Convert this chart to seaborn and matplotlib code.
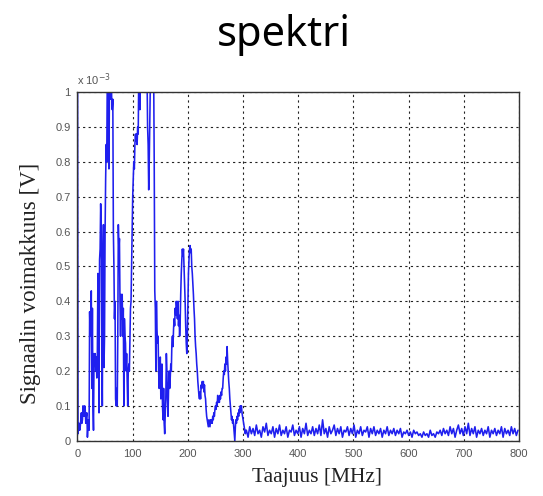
import numpy as np
import pandas as pd
import matplotlib
matplotlib.use("Agg")
import matplotlib.pyplot as plt
import seaborn as sns

# ---- data (signal level in units of 1e-3 V) ----
# 0..305 MHz sampled every 1 MHz
low_start_mhz = 0
low_step_mhz = 1
low_levels = [
    1.2, 0.02, 0.04, 0.05, 0.03, 0.04, 0.06, 0.08, 0.05, 0.06,
    0.1, 0.08, 0.07, 0.1, 0.09, 0.05, 0.07, 0.08, 0.01, 0.04,
    0.06, 0.03, 0.37, 0.3, 0.3, 0.43, 0.15, 0.38, 0.1, 0.03,
    0.25, 0.22, 0.25, 0.2, 0.24, 0.18, 0.25, 0.48, 0.3, 0.08,
    0.52, 0.55, 0.68, 0.6, 0.3, 0.1, 0.5, 0.62, 0.21, 0.3,
    0.6, 0.75, 0.85, 0.8, 1.05, 1.1, 0.82, 0.78, 1.05, 1.1,
    0.98, 1.05, 0.98, 0.95, 0.98, 0.6, 0.5, 0.35, 0.4, 0.12,
    0.1, 0.15, 0.1, 0.3, 0.62, 0.55, 0.58, 0.4, 0.3, 0.42,
    0.35, 0.42, 0.3, 0.38, 0.1, 0.35, 0.3, 0.28, 0.2, 0.25,
    0.18, 0.1, 0.2, 0.22, 0.2, 0.3, 0.38, 0.4, 0.5, 0.6,
    0.7, 0.75, 0.8, 0.78, 0.85, 0.88, 0.86, 0.88, 0.85, 0.9,
    0.88, 1.05, 1.1, 0.95, 1.1, 1.1, 1.05, 1.1, 1.2, 1.15,
    1.3, 1.2, 1.25, 1.15, 1.1, 1.08, 1.05, 0.9, 0.85, 0.72,
    0.8, 0.92, 1.05, 1.15, 1.2, 1.1, 1.15, 1.1, 1.05, 0.8,
    0.43, 0.38, 0.2, 0.4, 0.32, 0.28, 0.3, 0.2, 0.15, 0.18,
    0.24, 0.12, 0.2, 0.22, 0.1, 0.06, 0.15, 0.05, 0.02, 0.08,
    0.12, 0.25, 0.2, 0.12, 0.07, 0.15, 0.2, 0.15, 0.18, 0.22,
    0.2, 0.28, 0.3, 0.27, 0.32, 0.35, 0.33, 0.38, 0.36, 0.4,
    0.38, 0.35, 0.4, 0.33, 0.36, 0.3, 0.34, 0.42, 0.48, 0.52,
    0.55, 0.53, 0.55, 0.5, 0.45, 0.4, 0.33, 0.28, 0.25, 0.3,
    0.4, 0.48, 0.52, 0.55, 0.56, 0.54, 0.55, 0.5, 0.48, 0.45,
    0.42, 0.38, 0.35, 0.3, 0.27, 0.25, 0.22, 0.2, 0.17, 0.15,
    0.13, 0.12, 0.14, 0.12, 0.16, 0.15, 0.17, 0.16, 0.17, 0.14,
    0.16, 0.13, 0.12, 0.09, 0.07, 0.06, 0.05, 0.04, 0.06, 0.05,
    0.04, 0.06, 0.05, 0.06, 0.05, 0.07, 0.06, 0.08, 0.07, 0.09,
    0.1, 0.09, 0.11, 0.1, 0.13, 0.11, 0.12, 0.11, 0.13, 0.12,
    0.14, 0.13, 0.15, 0.15, 0.18, 0.2, 0.19, 0.22, 0.2, 0.24,
    0.22, 0.27, 0.23, 0.2, 0.17, 0.15, 0.12, 0.1, 0.08, 0.06,
    0.07, 0.05, 0.06, 0.04, 0.02, 0.0, 0.04, 0.06, 0.05, 0.07,
    0.06, 0.08, 0.07, 0.09, 0.08, 0.1, 0.09, 0.1, 0.08, 0.07,
    0.06, 0.05, 0.04, 0.03, 0.02, 0.03,
]
# 306..798 MHz sampled every 3 MHz (noise floor)
high_start_mhz = 306
high_step_mhz = 3
high_levels = [
    0.03, 0.01, 0.04, 0.02, 0.035, 0.015, 0.045, 0.02, 0.03, 0.01, 0.04, 0.025, 0.05, 0.015, 0.03,
    0.02, 0.04, 0.01, 0.035, 0.02, 0.045, 0.015, 0.03, 0.02, 0.04, 0.01, 0.03, 0.025, 0.045, 0.015,
    0.03, 0.02, 0.04, 0.01, 0.035, 0.02, 0.05, 0.015, 0.03, 0.02, 0.04, 0.015, 0.035, 0.02, 0.045,
    0.015, 0.06, 0.02, 0.035, 0.01, 0.04, 0.02, 0.03, 0.045, 0.015, 0.035, 0.02, 0.04, 0.01, 0.03,
    0.025, 0.04, 0.015, 0.035, 0.02, 0.045, 0.01, 0.03, 0.02, 0.04, 0.015, 0.03, 0.025, 0.04, 0.01,
    0.035, 0.02, 0.04, 0.015, 0.03, 0.02, 0.035, 0.01, 0.03, 0.02, 0.04, 0.015, 0.03, 0.02, 0.035,
    0.015, 0.03, 0.02, 0.035, 0.01, 0.025, 0.02, 0.03, 0.015, 0.025, 0.01, 0.03, 0.02, 0.025, 0.015,
    0.02, 0.01, 0.025, 0.015, 0.02, 0.01, 0.03, 0.015, 0.02, 0.01, 0.025, 0.02, 0.03, 0.015, 0.035,
    0.02, 0.03, 0.015, 0.04, 0.02, 0.035, 0.01, 0.03, 0.045, 0.02, 0.035, 0.015, 0.04, 0.02, 0.05,
    0.015, 0.035, 0.02, 0.04, 0.01, 0.03, 0.02, 0.035, 0.015, 0.03, 0.02, 0.04, 0.01, 0.03, 0.02,
    0.035, 0.015, 0.03, 0.02, 0.04, 0.01, 0.035, 0.02, 0.03, 0.015, 0.04, 0.02, 0.035, 0.015, 0.03,
]
x_ticks = [0, 100, 200, 300, 400, 500, 600, 700, 800]
y_ticks = [0, 0.1, 0.2, 0.3, 0.4, 0.5, 0.6, 0.7, 0.8, 0.9, 1]
y_tick_labels = ["0", "0.1", "0.2", "0.3", "0.4", "0.5", "0.6", "0.7", "0.8", "0.9", "1"]
title_text = "spektri"
xlabel_text = "Taajuus [MHz]"
ylabel_text = "Signaalin voimakkuus [V]"

low_freq = low_start_mhz + low_step_mhz * np.arange(len(low_levels))
high_freq = high_start_mhz + high_step_mhz * np.arange(len(high_levels))
df = pd.DataFrame({
    "freq": np.concatenate([low_freq, high_freq]),
    "level": np.concatenate([low_levels, high_levels]),
})

sns.set_style("white")
fig = plt.figure(figsize=(5.43, 4.96), dpi=100)
ax = fig.add_axes([0.1427, 0.1115, 0.956 - 0.1427, 0.814 - 0.1115])

sns.lineplot(data=df, x="freq", y="level", ax=ax, color="#1f1fee",
             linewidth=1.15, estimator=None, sort=False)

ax.set_xlim(0, 800)
ax.set_ylim(0, 1)
ax.set_xticks(x_ticks)
ax.set_xticklabels([str(t) for t in x_ticks])
ax.set_yticks(y_ticks)
ax.set_yticklabels(y_tick_labels)
ax.grid(True, color="#222222", linestyle=(0, (2, 3)), linewidth=0.8)
for s in ax.spines.values():
    s.set_visible(True)
    s.set_color("#333333")
    s.set_linewidth(1.0)
ax.tick_params(axis="both", direction="in", length=3, colors="#333333",
               labelcolor="#555555", labelsize=8)
for lab in ax.get_xticklabels() + ax.get_yticklabels():
    lab.set_family("Liberation Sans")
ax.tick_params(axis="x", pad=6)
ax.tick_params(axis="y", pad=5)

ax.set_xlabel(xlabel_text, family="Liberation Serif", fontsize=15.5, color="#222222")
ax.xaxis.set_label_coords((317 - 77.5) / (519 - 77.5), -(477 - 440.7) / 348.4, transform=ax.transAxes)
ax.xaxis.label.set_va("center")
ax.set_ylabel(ylabel_text, family="Liberation Serif", fontsize=16.5, color="#222222")
ax.yaxis.set_label_coords(-(77.5 - 31) / 441.5, (440.7 - 283) / 348.4, transform=ax.transAxes)
ax.yaxis.label.set_va("center")

ax.text(0.0, 1.012, "x 10$^{-3}$", transform=ax.transAxes, fontsize=8,
        color="#555555", family="Liberation Sans", ha="left", va="bottom")

fig.text(0.522, 0.93, title_text, fontsize=30, family="Noto Sans",
         ha="center", va="center", color="black")

fig.savefig("out.png", dpi=100)
